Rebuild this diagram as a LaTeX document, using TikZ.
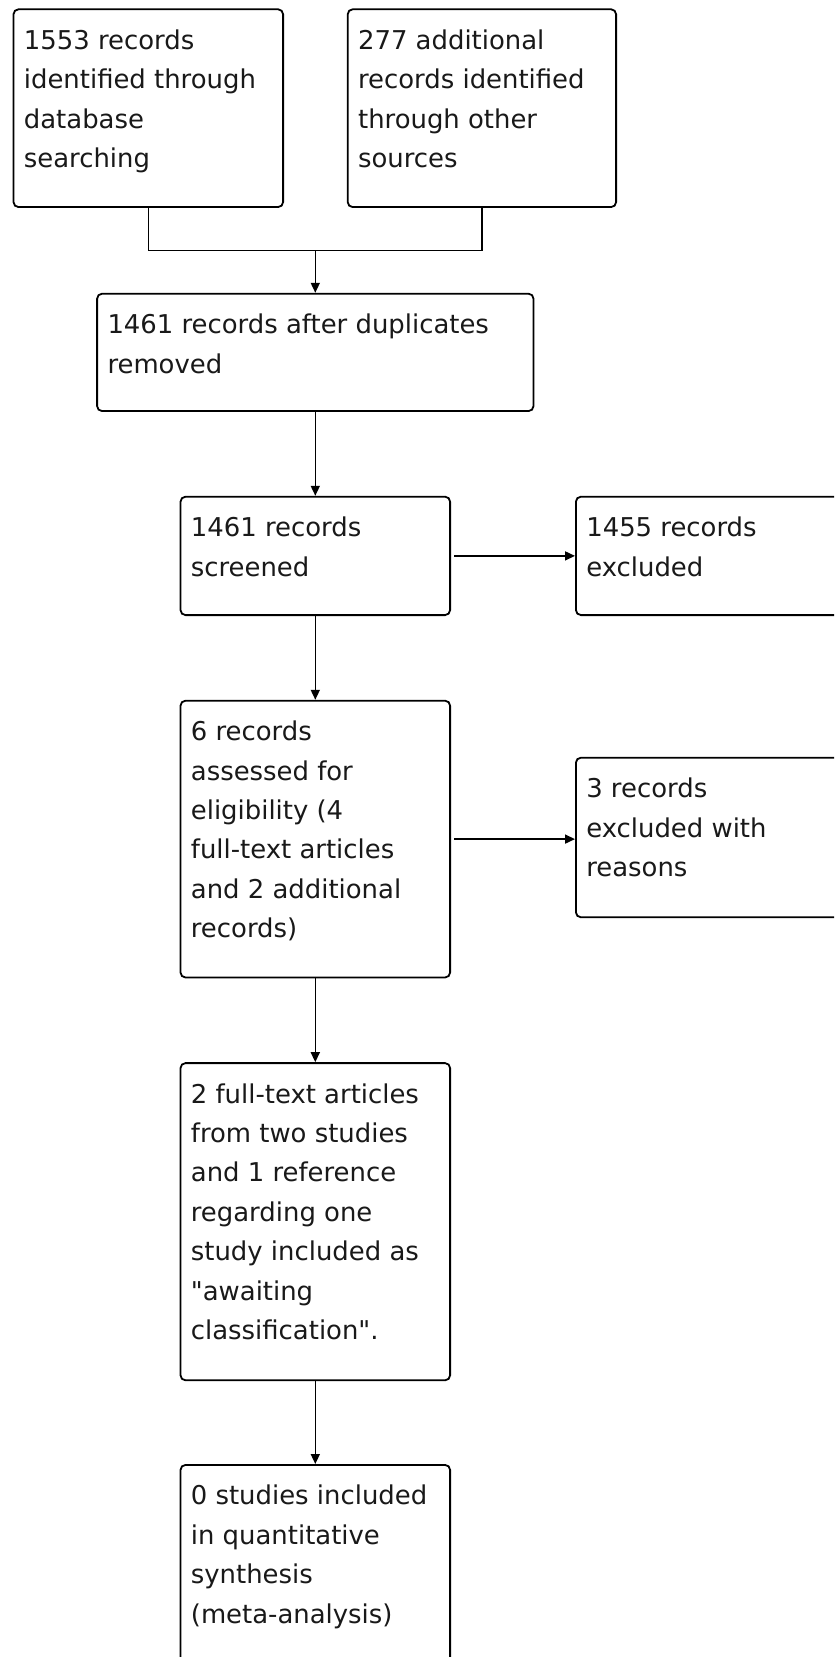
\documentclass[tikz,border=0pt]{standalone}
\usepackage{fontspec}
\setmainfont{DejaVu Sans}[Ligatures=TeXOff]
\usetikzlibrary{arrows.meta}
\newcommand{\mybox}[3]{\parbox[c][#1][t]{#2}{\raggedright\leftskip=5.2pt\parindent=0pt\fontsize{12.95}{19.7}\selectfont\vspace*{6pt}\rule{0pt}{14pt}#3}}
\tikzset{
  flowbox/.style={draw=black, line width=0.9pt, rounded corners=2.5pt, inner sep=0pt, anchor=north west, fill=white, text=black!90},
  arr/.style={draw=black, line width=0.8pt, -{Triangle[length=5pt,width=4.5pt]}},
  link/.style={draw=black, line width=0.8pt}
}
\begin{document}
\begin{tikzpicture}[x=1pt,y=-1pt]
\useasboundingbox (0,0) rectangle (417,828.5);
\fill[white] (0,0) rectangle (417,828.5);
\clip (0,0) rectangle (417,828.5);
\node[flowbox] (b1) at (6.3,4.2) {\mybox{98.9pt}{134.8pt}{1553 records\\identified through\\database\\searching}};
\node[flowbox] (b2) at (173.4,4.2) {\mybox{98.9pt}{134.2pt}{277 additional\\records identified\\through other\\sources}};
\node[flowbox] (b3) at (48.1,146.4) {\mybox{58.7pt}{218.2pt}{1461 records after duplicates\\removed}};
\node[flowbox] (b4) at (89.8,247.9) {\mybox{59.2pt}{134.8pt}{1461 records\\screened}};
\node[flowbox] (b5) at (287.5,247.9) {\mybox{59.2pt}{150pt}{1455 records\\excluded}};
\node[flowbox] (b6) at (89.8,349.9) {\mybox{138.4pt}{134.8pt}{6 records\\assessed for\\eligibility (4\\full-text articles\\and 2 additional\\records)}};
\node[flowbox] (b7) at (287.5,378.4) {\mybox{79.8pt}{150pt}{3 records\\excluded with\\reasons}};
\node[flowbox] (b8) at (89.8,531.1) {\mybox{158.6pt}{134.8pt}{2 full-text articles\\from two studies\\and 1 reference\\regarding one\\study included as\\"awaiting\\classification".}};
\node[flowbox] (b9) at (89.8,732) {\mybox{120pt}{134.8pt}{0 studies included\\in quantitative\\synthesis\\(meta-analysis)}};
\coordinate (j) at (b3.north |- 0,125.3);
\draw[link] (b1.south) |- (b2.south |- j) -- (b2.south);
\draw[arr] (j) -- (b3.north);
\draw[arr] (b3.south) -- (b4.north);
\draw[arr, shorten <=1.5pt] (b4.east) -- (b4.east -| b5.west);
\draw[arr] (b4.south) -- (b6.north);
\draw[arr, shorten <=1.5pt] (b6.east) -- (b6.east -| b7.west);
\draw[arr] (b6.south) -- (b8.north);
\draw[arr] (b8.south) -- (b9.north);
\end{tikzpicture}
\end{document}
